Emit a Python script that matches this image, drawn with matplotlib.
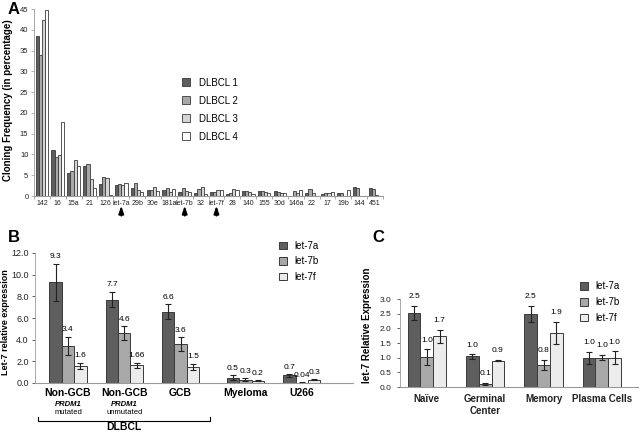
import numpy as np
import matplotlib
matplotlib.use("Agg")
import matplotlib.pyplot as plt
import matplotlib.transforms as mtransforms

plt.rcParams['font.family'] = ['Liberation Sans', 'DejaVu Sans']

# ---------------- Data: panel A ----------------
a_categories = ["142", "16", "15a", "21", "126", "let-7a", "29b", "30e", "181a", "let-7b",
                "32", "let-7f", "28", "140", "155", "30d", "146a", "22", "17", "19b", "144", "451"]
a_series = ["DLBCL 1", "DLBCL 2", "DLBCL 3", "DLBCL 4"]
dlbcl1 = [38.5, 11.0, 5.5, 7.3, 2.9, 2.6, 2.0, 1.4, 1.4, 1.0, 0.7, 0.9, 0.5, 1.3, 1.2, 1.3, 0.0, 0.8, 0.6, 0.8, 2.1, 1.9]
dlbcl2 = [34.0, 9.3, 6.0, 7.6, 4.5, 2.8, 3.1, 1.4, 1.9, 1.9, 1.7, 0.9, 0.8, 1.1, 1.1, 0.9, 1.1, 1.8, 0.8, 0.7, 2.0, 1.8]
dlbcl3 = [42.3, 9.8, 8.6, 4.2, 4.3, 2.7, 1.5, 2.1, 1.0, 1.3, 2.1, 1.4, 1.8, 0.9, 0.9, 0.8, 0.8, 0.8, 0.8, 0.1, 0.1, 0.2]
dlbcl4 = [44.7, 17.8, 7.2, 2.0, 0.2, 3.1, 0.9, 1.2, 1.8, 1.0, 0.6, 1.4, 1.4, 0.6, 0.7, 0.7, 1.4, 0.1, 0.9, 1.4, 0.0, 0.1]
a_arrows = ["let-7a", "let-7b", "let-7f"]

# ---------------- Data: panel B ----------------
b_groups = ["Non-GCB", "Non-GCB", "GCB", "Myeloma", "U266"]
b_sub1 = ["PRDM1", "PRDM1", "", "", ""]
b_sub2 = ["mutated", "unmutated", "", "", ""]
b_is_dlbcl = [True, True, True, False, False]
b_series = ["let-7a", "let-7b", "let-7f"]
b_let7a = [9.3, 7.7, 6.6, 0.5, 0.7]
b_let7b = [3.4, 4.6, 3.6, 0.3, 0.04]
b_let7f = [1.6, 1.66, 1.5, 0.2, 0.3]
b_err7a = [1.7, 0.72, 0.65, 0.2, 0.12]
b_err7b = [0.85, 0.62, 0.62, 0.12, 0.02]
b_err7f = [0.27, 0.23, 0.3, 0.05, 0.05]
b_text7a = ["9.3", "7.7", "6.6", "0.5", "0.7"]
b_text7b = ["3.4", "4.6", "3.6", "0.3", "0.04"]
b_text7f = ["1.6", "1.66", "1.5", "0.2", "0.3"]
b_yticks = [0, 2, 4, 6, 8, 10, 12]

# ---------------- Data: panel C ----------------
c_groups = ["Naïve", "Germinal\nCenter", "Memory", "Plasma Cells"]
c_let7a = [2.53, 1.04, 2.5, 1.0]
c_let7b = [1.02, 0.11, 0.76, 1.0]
c_let7f = [1.73, 0.9, 1.85, 1.0]
c_err7a = [0.24, 0.07, 0.27, 0.21]
c_err7b = [0.26, 0.03, 0.17, 0.09]
c_err7f = [0.22, 0.02, 0.38, 0.22]
c_text7a = ["2.5", "1.0", "2.5", "1.0"]
c_text7b = ["1.0", "0.1", "0.8", "1.0"]
c_text7f = ["1.7", "0.9", "1.9", "1.0"]
c_yticks = [0.0, 0.5, 1.0, 1.5, 2.0, 2.5, 3.0]

# ---------------- Style ----------------
W, H = 640, 434
fig = plt.figure(figsize=(W / 100, H / 100), dpi=100)

def rect(l, t, r, b):
    return [l / W, 1 - b / H, (r - l) / W, (b - t) / H]

def fy(py):
    return 1 - py / H

edge = "#3a3a3a"
c_dark = "#5e5e5e"
c_mid = "#a8a8a8"
c_light3 = "#d4d4d4"
c_white = "#ffffff"
c_light = "#ececec"
axis_col = "#9a9a9a"

def style_axes(ax):
    for s in ["top", "right"]:
        ax.spines[s].set_visible(False)
    ax.spines["left"].set_color(axis_col)
    ax.spines["bottom"].set_color(axis_col)
    ax.spines["left"].set_linewidth(0.6)
    ax.spines["bottom"].set_linewidth(0.8)
    ax.tick_params(colors="#222222", width=0.5, length=2.5)

# ================= Panel A =================
axA = fig.add_axes(rect(34, 9, 383, 196))
style_axes(axA)
xa = np.arange(len(a_categories))
bw = 0.2
for k, (vals, col) in enumerate(zip([dlbcl1, dlbcl2, dlbcl3, dlbcl4],
                                     [c_dark, c_mid, c_light3, c_white])):
    axA.bar(xa + (k - 1.5) * bw, vals, width=bw, color=col, edgecolor=edge,
            linewidth=0.6, label=a_series[k])
axA.set_xlim(-0.5, len(a_categories) - 0.5)
axA.set_ylim(0, 45)
axA.set_yticks(range(0, 46, 5))
axA.set_xticks(xa)
axA.set_xticklabels(a_categories, fontsize=5)
axA.set_xticks(np.arange(-0.5, len(a_categories), 1), minor=True)
axA.tick_params(axis="x", which="major", length=0, pad=3)
axA.tick_params(axis="x", which="minor", length=2, color=axis_col)
axA.tick_params(axis="y", labelsize=5.5, length=2, color=axis_col, pad=2)
fig.text(8 / W, fy(100), "Cloning Frequency (in percentage)", rotation=90, fontsize=7,
         fontweight="bold", ha="center", va="center")
trA = mtransforms.blended_transform_factory(axA.transData, axA.transAxes)
for name in a_arrows:
    i = a_categories.index(name)
    axA.annotate("", xy=(i, -0.037), xycoords=trA, xytext=(i, -0.12), textcoords=trA,
                 arrowprops=dict(arrowstyle="-|>,head_length=0.45,head_width=0.15",
                                 color="black", lw=1.3))
axA.legend(loc="upper left", bbox_to_anchor=(0.4, 0.68), frameon=False, fontsize=7,
           handlelength=0.8, handleheight=0.8, labelspacing=0.82, handletextpad=0.9)

# ================= Panel B =================
axB = fig.add_axes(rect(35, 253, 353, 383))
style_axes(axB)
xb = np.arange(len(b_groups)) + np.where(b_is_dlbcl, 0.0, 0.15)
bwb = 0.22
for k, (vals, errs, texts, col) in enumerate(zip(
        [b_let7a, b_let7b, b_let7f], [b_err7a, b_err7b, b_err7f],
        [b_text7a, b_text7b, b_text7f], [c_dark, c_mid, c_light])):
    xs = xb + (k - 1) * bwb
    axB.bar(xs, vals, width=bwb, color=col, edgecolor=edge, linewidth=0.7,
            label=b_series[k])
    axB.errorbar(xs, vals, yerr=errs, fmt="none", ecolor="#222222", elinewidth=0.8,
                 capsize=2.5, capthick=0.8)
    for x, v, e, t in zip(xs, vals, errs, texts):
        axB.annotate(t, xy=(x, v + e), xytext=(0, 2.5), textcoords="offset points",
                     ha="center", va="bottom", fontsize=6)
axB.set_ylim(0, 12)
axB.set_xlim(xb[0] - 0.585, xb[0] + 5.06)
axB.set_yticks(b_yticks)
axB.set_yticklabels([f"{v:.1f}" for v in b_yticks], fontsize=6.5)
axB.tick_params(axis="y", pad=2)
axB.set_xticks([])
fig.text(6 / W, fy(322), "Let-7 relative expression", rotation=90, fontsize=6.5,
         fontweight="bold", ha="center", va="center")
trB = mtransforms.blended_transform_factory(axB.transData, axB.transAxes)
for x, g, s1, s2 in zip(xb, b_groups, b_sub1, b_sub2):
    axB.text(x, -0.075, g, transform=trB, ha="center", va="center", fontsize=7.5,
             fontweight="bold")
    if s1:
        axB.text(x, -0.165, s1, transform=trB, ha="center", va="center", fontsize=5.5,
                 fontstyle="italic", fontweight="bold")
        axB.text(x, -0.23, s2, transform=trB, ha="center", va="center", fontsize=5.5)
dl = xb[np.array(b_is_dlbcl)]
bl, br = dl[0] - 0.53, dl[-1] + 0.53
axB.plot([bl, bl, br, br], [-0.26, -0.29, -0.29, -0.26], transform=trB, color="black",
         lw=0.8, clip_on=False)
trBfig = mtransforms.blended_transform_factory(axB.transData, fig.transFigure)
fig.text((bl + br) / 2, fy(427), "DLBCL", ha="center", va="center", fontsize=7.5,
         fontweight="bold", transform=trBfig)
axB.legend(loc="upper left", bbox_to_anchor=(0.74, 1.16), frameon=False, fontsize=7,
           handlelength=0.8, handleheight=0.8, labelspacing=0.55, handletextpad=0.8)

# ================= Panel C =================
axC = fig.add_axes(rect(400, 299, 638, 387))
style_axes(axC)
xc = np.arange(len(c_groups))
bwc = 0.22
for k, (vals, errs, texts, col) in enumerate(zip(
        [c_let7a, c_let7b, c_let7f], [c_err7a, c_err7b, c_err7f],
        [c_text7a, c_text7b, c_text7f], [c_dark, c_mid, c_light])):
    xs = xc + (k - 1) * bwc
    axC.bar(xs, vals, width=bwc, color=col, edgecolor=edge, linewidth=0.7,
            label=b_series[k])
    axC.errorbar(xs, vals, yerr=errs, fmt="none", ecolor="#222222", elinewidth=0.8,
                 capsize=2.5, capthick=0.8)
    for x, v, e, t in zip(xs, vals, errs, texts):
        axC.annotate(t, xy=(x, v + e), xytext=(0, 4), textcoords="offset points",
                     ha="center", va="bottom", fontsize=6)
axC.set_ylim(0, 3.0)
axC.set_xlim(-0.46, 3.62)
axC.set_yticks(c_yticks)
axC.set_yticklabels([f"{v:.1f}" for v in c_yticks], fontsize=6)
axC.set_xticks(xc)
axC.set_xticklabels(c_groups, fontsize=7, fontweight="bold", va="top")
axC.tick_params(axis="x", length=0, pad=5)
fig.text(367 / W, fy(325), "let-7 Relative Expression", rotation=90, fontsize=7,
         fontweight="bold", ha="center", va="center")
axC.legend(loc="upper left", bbox_to_anchor=(0.72, 1.3), frameon=False, fontsize=7,
           handlelength=0.8, handleheight=0.8, labelspacing=0.6, handletextpad=0.8)

# ---------------- Panel letters ----------------
for lab, px, py in [("A", 8, 9), ("B", 8, 237), ("C", 372, 237)]:
    fig.text(px / W, fy(py), lab, fontsize=12, fontweight="bold", ha="left", va="center")

fig.savefig("out.png", dpi=100)
